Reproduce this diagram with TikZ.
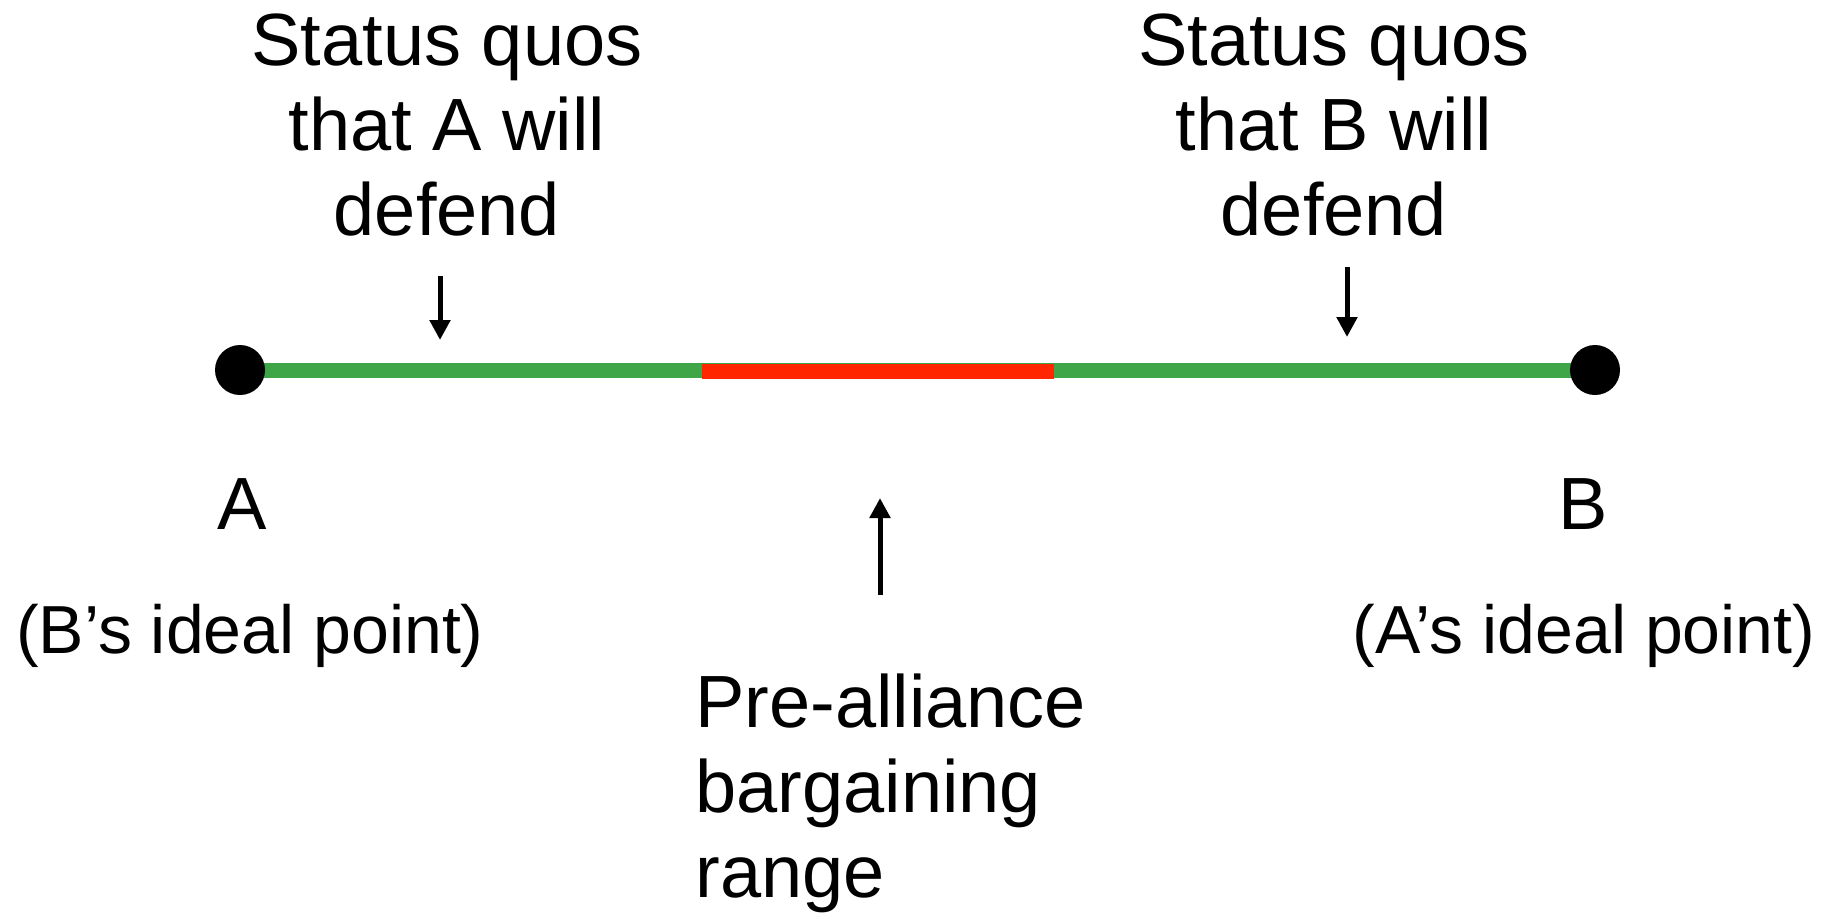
\documentclass[tikz,border=0pt]{standalone}
\usepackage{fontspec}
\setmainfont{Liberation Sans}
\usetikzlibrary{arrows.meta,backgrounds}
\definecolor{lineGreen}{RGB}{62,166,70}
\definecolor{rangeRed}{RGB}{255,38,0}
\begin{document}
\begin{tikzpicture}[x=0.5pt,y=-0.5pt,
  lbl/.style={font=\fontsize{37pt}{42.5pt}\selectfont, inner sep=0pt, align=center, anchor=base},
  small/.style={font=\fontsize{34pt}{40pt}\selectfont},
  enddot/.style={circle, fill=black, minimum size=25pt, inner sep=0pt},
  ptr/.style={-{Triangle[width=10pt,length=10pt]}, line width=2.5pt}]
\useasboundingbox (0,0) rectangle (1835,912);

% end points of the issue line
\node[enddot] (dA) at (240,370) {};
\node[enddot] (dB) at (1595,370) {};

% the issue line and the bargaining range, under the dots
\coordinate (rL) at (702,371);
\coordinate (rR) at (1054,371);
\begin{scope}[on background layer]
  \draw[lineGreen, line width=7.5pt] (dA.center) -- (dB.center);
  \draw[rangeRed, line width=7.5pt] (rL) -- (rR);
\end{scope}

% texts above the line (base = last line)
\node[lbl] (sqA) at (447,235) {Status quos\\that A will\\defend};
\node[lbl] (sqB) at (1334,235) {Status quos\\that B will\\defend};

% pointers
\coordinate (pA1) at (440,276);
\coordinate (pA2) at (440,340);
\coordinate (pB1) at (1347,267);
\coordinate (pB2) at (1347,337);
\coordinate (pR1) at (880,595);
\coordinate (pR2) at (880,498);
\draw[ptr] (pA1) -- (pA2);
\draw[ptr] (pB1) -- (pB2);
\draw[ptr] (pR1) -- (pR2);

% labels under the line
\node[lbl] (lA) at (242,529) {A};
\node[lbl] (lB) at (1583,529) {B};
\node[lbl, small] (iA) at (250,653) {(B’s ideal point)};
\node[lbl, small] (iB) at (1584,653) {(A’s ideal point)};
\node[lbl, align=left, anchor=base west] (pre) at (695,897) {Pre-alliance\\bargaining\\range};
\end{tikzpicture}
\end{document}
